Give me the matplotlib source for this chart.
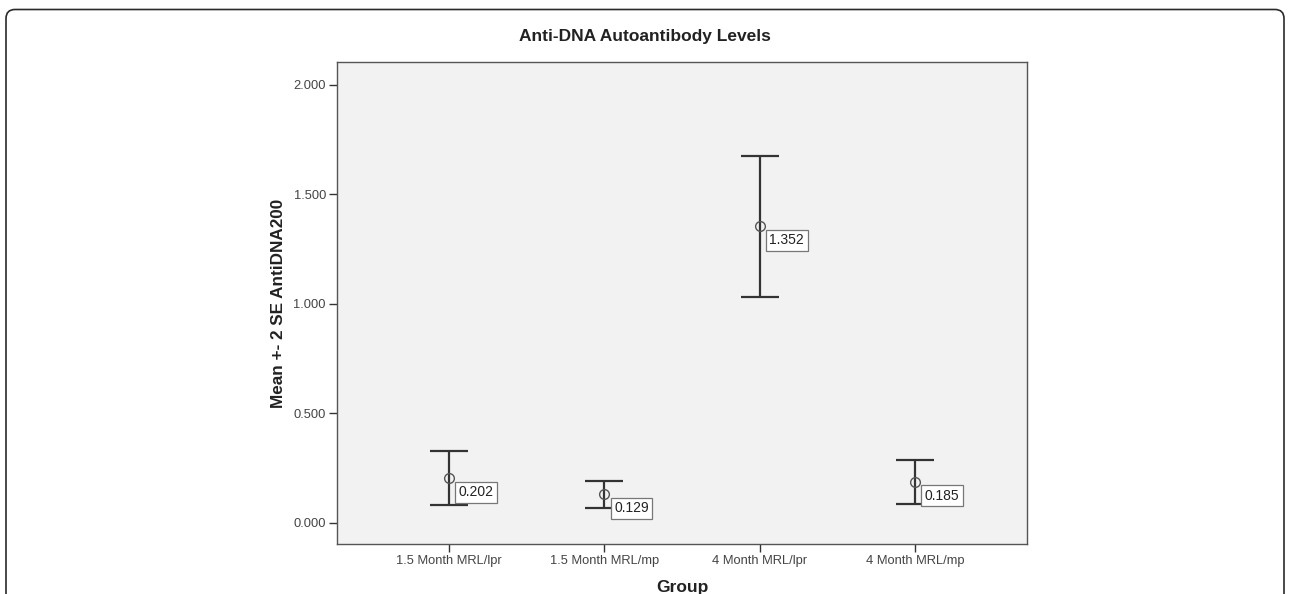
"""
Anti-DNA autoantibody levels: mean +- 2 SE per group (SPSS style error bar chart).
"""
import matplotlib
matplotlib.use('Agg')
import matplotlib.pyplot as plt
from matplotlib.patches import FancyBboxPatch

plt.rcParams['font.family'] = ['Liberation Sans', 'DejaVu Sans']

groups = ['1.5 Month MRL/lpr', '1.5 Month MRL/mp', '4 Month MRL/lpr', '4 Month MRL/mp']
means = [0.202, 0.129, 1.352, 0.185]
lower = [0.080, 0.068, 1.030, 0.085]
upper = [0.326, 0.191, 1.675, 0.287]
y_ticks = [0.0, 0.5, 1.0, 1.5, 2.0]

W, H = 1289, 594
fig = plt.figure(figsize=(W / 100, H / 100), dpi=100)

# background layer in pixel units, used for the rounded frame
bg = fig.add_axes([0, 0, 1, 1], zorder=-1)
bg.set_xlim(0, W)
bg.set_ylim(H, 0)
bg.axis('off')
frame = FancyBboxPatch((6, 9.5), 1278, 640,
                       boxstyle='round,pad=0,rounding_size=9',
                       facecolor='white', edgecolor='#2a2a2a', linewidth=1.2)
bg.add_patch(frame)

ax = fig.add_axes([337 / W, 1 - 544 / H, 690 / W, 482 / H])
ax.set_facecolor('#f2f2f2')

x = list(range(1, len(groups) + 1))
err_lo = [m - lo for m, lo in zip(means, lower)]
err_hi = [hi - m for m, hi in zip(means, upper)]
ax.errorbar(x, means, yerr=[err_lo, err_hi], fmt='none', ecolor='#333333',
            elinewidth=1.6, capsize=14, capthick=1.6, zorder=2)
ax.plot(x, means, 'o', markersize=7, markerfacecolor='none',
        markeredgecolor='#555555', markeredgewidth=1.0, zorder=3)

for xi, m in zip(x, means):
    ax.annotate(f'{m:.3f}', (xi, m), xytext=(19.5, -10), textcoords='offset points',
                ha='center', va='center', fontsize=10, color='#222222',
                bbox=dict(boxstyle='square,pad=0.25', facecolor='white',
                          edgecolor='#777777', linewidth=0.9), zorder=4)

ax.set_xlim(0.28, 4.72)
ax.set_ylim(-0.098, 2.103)
ax.set_xticks(x)
ax.set_xticklabels(groups)
ax.set_yticks(y_ticks)
ax.set_yticklabels([f'{v:.3f}' for v in y_ticks])
ax.tick_params(axis='both', direction='out', length=6, width=1.0, color='#333333',
               labelsize=9.3, labelcolor='#444444', pad=2)
for side in ax.spines.values():
    side.set_color('#555555')
    side.set_linewidth(1.0)

ax.set_xlabel('Group', fontsize=12.5, fontweight='bold', color='#222222', labelpad=9)
ax.set_ylabel('Mean +- 2 SE AntiDNA200', fontsize=12.3, fontweight='bold',
              color='#222222', labelpad=5)
fig.text(645 / W, 1 - 36 / H, 'Anti-DNA Autoantibody Levels', ha='center', va='center',
         fontsize=12.5, fontweight='bold', color='#222222')

fig.savefig('out.png', dpi=100)
